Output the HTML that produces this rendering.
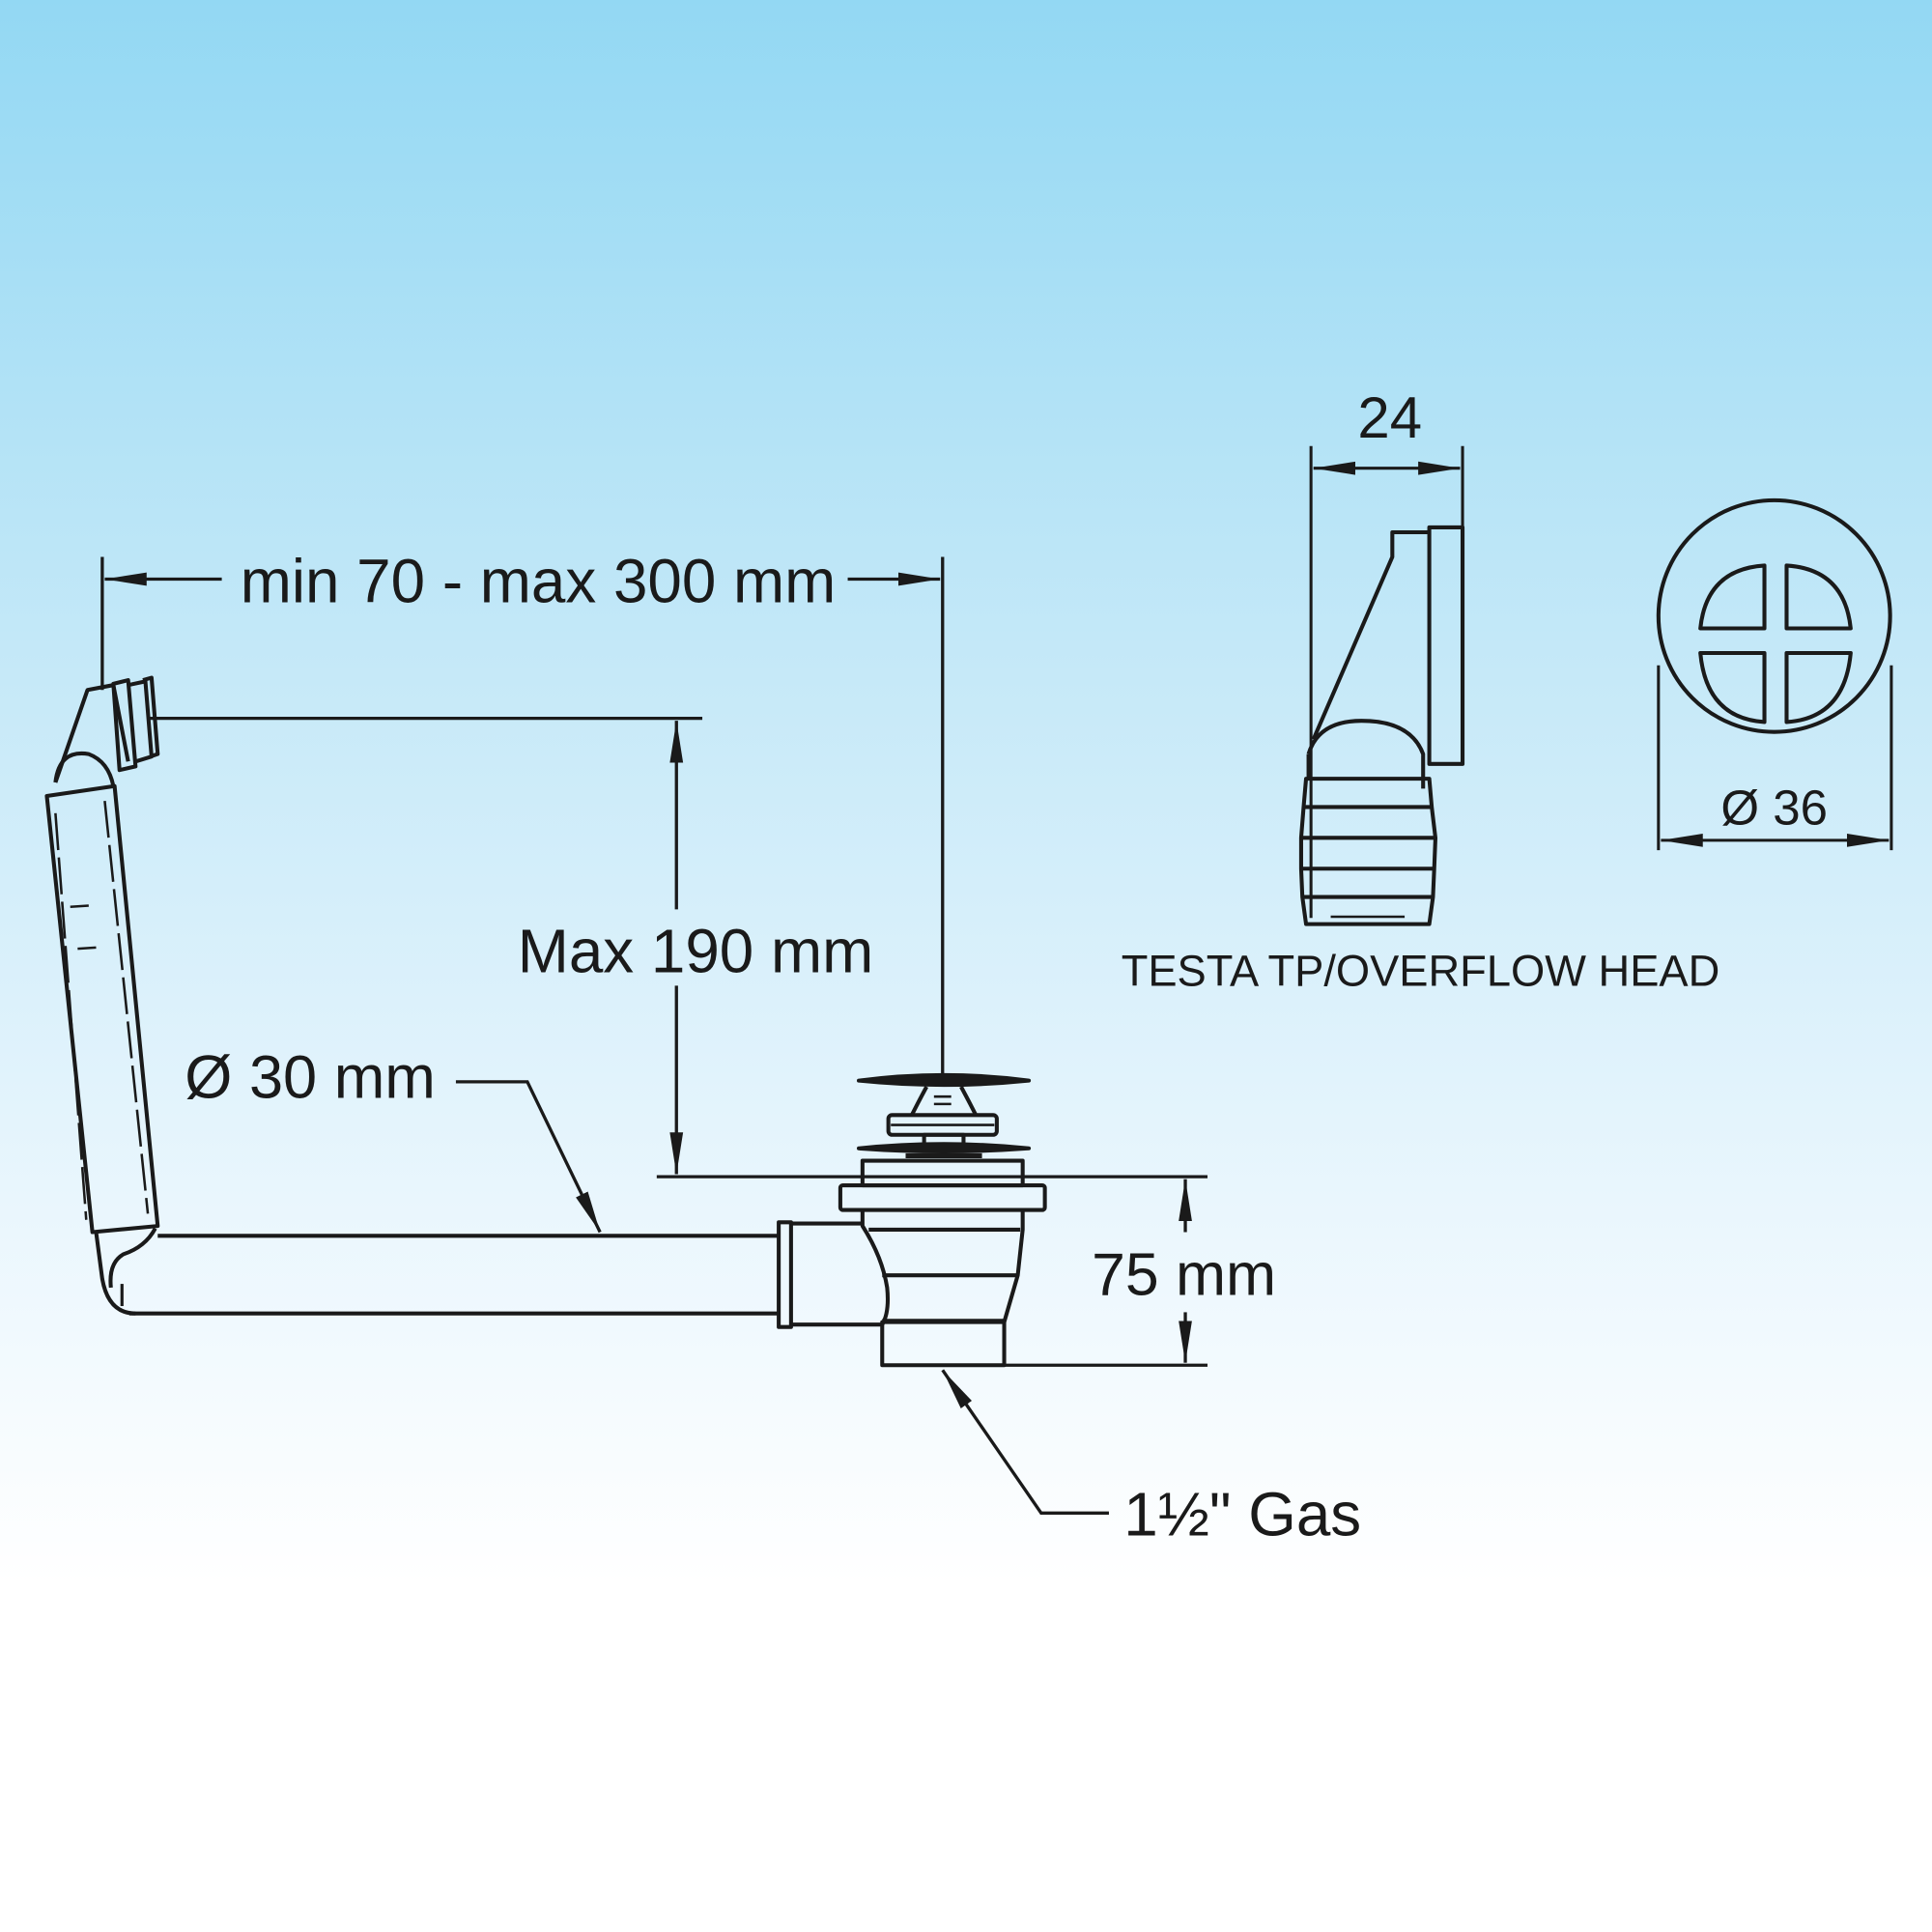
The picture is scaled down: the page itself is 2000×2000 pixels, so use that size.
<!DOCTYPE html>
<html><head><meta charset="utf-8"><style>
html,body{margin:0;padding:0;}
body{width:2000px;height:2000px;overflow:hidden;background:linear-gradient(180deg,#93d8f3 0%,#c6e9f8 35%,#e9f6fd 62%,#ffffff 82%,#ffffff 100%);}
svg{position:absolute;left:0;top:0}
text{font-family:"Liberation Sans",Arial,sans-serif;fill:#1a1a1a}
</style></head><body>
<svg width="2000" height="2000" viewBox="0 0 1568 1568" xmlns="http://www.w3.org/2000/svg">
<defs>
<marker id="a" viewBox="0 0 10 10" refX="10" refY="5" markerWidth="34" markerHeight="12" markerUnits="userSpaceOnUse" orient="auto-start-reverse" preserveAspectRatio="none"><path d="M0,0.5 L10,5 L0,9.5 Z" fill="#1a1a1a"/></marker>
</defs>
<g stroke="#1a1a1a" stroke-width="2.6" fill="none">
<line x1="83" y1="452" x2="83" y2="560"/>
<line x1="765" y1="452" x2="765" y2="876"/>
<line x1="85" y1="470" x2="180" y2="470" marker-start="url(#a)"/>
<line x1="688" y1="470" x2="763" y2="470" marker-end="url(#a)"/>
<line x1="120" y1="583" x2="570" y2="583"/>
<line x1="549" y1="585" x2="549" y2="738" marker-start="url(#a)"/>
<line x1="549" y1="800" x2="549" y2="953" marker-end="url(#a)"/>
<line x1="533" y1="955" x2="980" y2="955"/>
<line x1="815" y1="1108" x2="980" y2="1108"/>
<line x1="962" y1="957" x2="962" y2="1000" marker-start="url(#a)"/>
<line x1="962" y1="1065" x2="962" y2="1106" marker-end="url(#a)"/>
<polyline points="370,878 428,878 487,1000" marker-end="url(#a)"/>
<polyline points="900,1228 845,1228 765,1112" marker-end="url(#a)"/>
</g>
<g stroke="#1a1a1a" stroke-width="3.2" fill="none" stroke-linejoin="round">
<path d="M128,1003 L632,1003 M105,1066 L632,1066"/>
<rect x="632" y="992" width="10" height="85"/>
<path d="M642,993 L700,993 M642,1075 L716,1075"/>
<path d="M700,982 L700,995 Q716,1020 720,1045 Q722,1065 716,1075"/>
<path d="M830,982 L830,998 L826,1035 L815,1073"/>
<line x1="705" y1="998" x2="828" y2="998"/>
<line x1="716" y1="1035" x2="826" y2="1035"/>
<line x1="716" y1="1072" x2="815" y2="1072"/>
<rect x="716" y="1073" width="99" height="35"/>
<rect x="682" y="962" width="166" height="20" rx="2"/>
<rect x="700" y="942" width="130" height="20"/>
<path d="M697,932 Q766,925 835,932 Q766,937 697,932 Z" fill="#1a1a1a"/>
<path d="M735,938 L797,938" stroke-width="4"/>
<rect x="750" y="921" width="32" height="8"/>
<rect x="721" y="905" width="88" height="16" rx="3"/>
<line x1="723" y1="913" x2="807" y2="913" stroke-width="2"/>
<path d="M697,877 Q766,868 835,877 Q766,884 697,877 Z" fill="#1a1a1a"/>
<path d="M752,882 Q745,895 740,905 M780,882 Q787,895 792,905"/>
<path d="M758,890 L772,890 M758,896 L772,896" stroke-width="2"/>
<polygon points="38,646 93,638 128,995 75,1000"/>
<path d="M45,660 L70,990 M85,650 L120,985" stroke-width="2" stroke-dasharray="30,6"/>
<path d="M57,736 L72,735 M63,770 L78,769" stroke-width="2"/>
<path d="M45,635 Q48,608 72,612 Q88,618 92,638"/>
<path d="M45,635 L71,560 L92,556 L104,618"/>
<path d="M92,555 L104,552 L110,622 L97,625 Z"/>
<path d="M104,556 L118,553 L123,614 L110,618"/>
<path d="M116,552 L123,550 L128,612 L122,614"/>
<path d="M78,1000 L83,1038 Q88,1066 110,1066"/>
<path d="M126,997 Q118,1012 100,1018 Q88,1025 90,1045"/>
<path d="M99,1042 L99,1060" stroke-width="2.5"/>
<line x1="1064" y1="362" x2="1064" y2="745" stroke-width="2.4"/>
<line x1="1187" y1="362" x2="1187" y2="428" stroke-width="2.4"/>
<rect x="1160" y="428" width="27" height="192"/>
<path d="M1160,432 L1130,432 L1130,452 L1066,600"/>
<path d="M1062,612 Q1070,585 1105,585 Q1145,585 1155,612 L1155,640"/>
<path d="M1062,612 L1062,632"/>
<path d="M1060,632 L1160,632 L1162,655 L1058,655 Z M1058,655 L1162,655 L1165,680 L1056,680 Z M1056,680 L1165,680 L1164,705 L1056,705 Z M1056,705 L1164,705 L1163,728 L1057,728 Z M1057,728 L1163,728 L1160,750 L1060,750 Z"/>
<line x1="1080" y1="744" x2="1140" y2="744" stroke-width="2"/>
<circle cx="1440" cy="500" r="94"/>
<path d="M1432,459 Q1385,462 1380,510 L1432,510 Z"/>
<path d="M1450,459 Q1497,462 1502,510 L1450,510 Z"/>
<path d="M1432,586 Q1385,583 1380,530 L1432,530 Z"/>
<path d="M1450,586 Q1497,583 1502,530 L1450,530 Z"/>
</g>
<g stroke="#1a1a1a" stroke-width="2.4" fill="none">
<line x1="1066" y1="380" x2="1185" y2="380" marker-start="url(#a)" marker-end="url(#a)"/>
<line x1="1346" y1="540" x2="1346" y2="690"/>
<line x1="1535" y1="540" x2="1535" y2="690"/>
<line x1="1348" y1="682" x2="1533" y2="682" marker-start="url(#a)" marker-end="url(#a)"/>
</g>
<text x="195" y="489" font-size="50">min 70 - max 300 mm</text>
<text x="420" y="789" font-size="50">Max 190 mm</text>
<text x="150" y="891" font-size="49.5">Ø 30 mm</text>
<text x="886" y="1051" font-size="49">75 mm</text>
<text x="912" y="1246" font-size="50">1½" Gas</text>
<text x="1128" y="355" font-size="47" text-anchor="middle">24</text>
<text x="1440" y="669" font-size="40" text-anchor="middle">Ø 36</text>
<text x="910" y="800" font-size="35.5">TESTA TP/OVERFLOW HEAD</text>
</svg>
</body></html>
